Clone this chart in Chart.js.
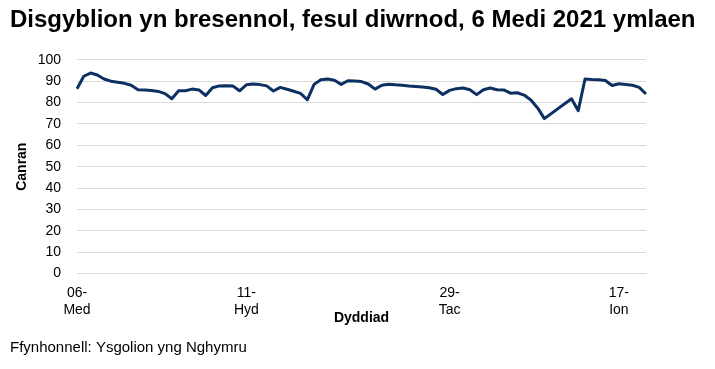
<!DOCTYPE html>
<html>
<head>
<meta charset="utf-8">
<script src="https://cdn.jsdelivr.net/npm/chart.js@4"></script>
<style>
    body { margin: 0; background: #fff; }
    #wrap { width: 715px; height: 369px; }
</style>
</head>
<body>
<div id="wrap"><canvas id="myChart" width="715" height="369"></canvas></div>
<script>
// school days, 6 Sept 2021 -> 21 Jan 2022
const dates = [
    '06-Med', '07-Med', '08-Med', '09-Med', '10-Med', '13-Med', '14-Med', '15-Med', '16-Med', '17-Med',
    '20-Med', '21-Med', '22-Med', '23-Med', '24-Med', '27-Med', '28-Med', '29-Med', '30-Med',
    '01-Hyd', '04-Hyd', '05-Hyd', '06-Hyd', '07-Hyd', '08-Hyd', '11-Hyd', '12-Hyd', '13-Hyd', '14-Hyd', '15-Hyd',
    '18-Hyd', '19-Hyd', '20-Hyd', '21-Hyd', '22-Hyd',
    '01-Tac', '02-Tac', '03-Tac', '04-Tac', '05-Tac', '08-Tac', '09-Tac', '10-Tac', '11-Tac', '12-Tac',
    '15-Tac', '16-Tac', '17-Tac', '18-Tac', '19-Tac', '22-Tac', '23-Tac', '24-Tac', '25-Tac', '26-Tac',
    '29-Tac', '30-Tac',
    '01-Rha', '02-Rha', '03-Rha', '06-Rha', '07-Rha', '08-Rha', '09-Rha', '10-Rha',
    '13-Rha', '14-Rha', '15-Rha', '16-Rha', '17-Rha',
    '03-Ion', '04-Ion', '05-Ion', '06-Ion', '07-Ion', '10-Ion', '11-Ion', '12-Ion', '13-Ion', '14-Ion',
    '17-Ion', '18-Ion', '19-Ion', '20-Ion', '21-Ion'
];

// percentage present (null = no data)
const presentPct = [
    86.5, 92.3, 93.8, 92.9, 91.0, 90.0, 89.5, 89.0, 88.1, 86.0,
    85.9, 85.6, 85.2, 84.2, 81.8, 85.5, 85.5, 86.3, 85.9,
    83.3, 86.9, 87.8, 87.9, 87.8, 85.5, 88.3, 88.7, 88.4, 87.8, 85.4,
    87.1, 86.2, 85.3, 84.3, 81.3,
    88.5, 90.7, 91.0, 90.4, 88.5, 90.2, 90.1, 89.8, 88.7, 86.3,
    88.1, 88.6, 88.3, 88.1, 87.7, 87.5, 87.3, 86.9, 86.2, 83.8,
    85.7, 86.5,
    86.8, 86.0, 83.7, 86.0, 86.8, 86.0, 85.9, 84.4,
    84.6, 83.5, 81.2, 77.5, 72.5,
    null, null, null, 81.8, 76.2, 91.0, 90.8, 90.7, 90.3, 88.0,
    88.8, 88.5, 88.1, 87.1, 84.0
];

// only these dates get a label on the x axis
const shownTicks = ['06-Med', '11-Hyd', '29-Tac', '17-Ion'];

const yTicks = [0, 10, 20, 30, 40, 50, 60, 70, 80, 90, 100];

const FONT = "'Liberation Sans', Arial, sans-serif";
Chart.defaults.font.family = FONT;
Chart.defaults.color = '#000';

const ctx = document.getElementById('myChart').getContext('2d');

new Chart(ctx, {
    type: 'line',
    data: {
        labels: dates,
        datasets: [{
            label: 'Canran',
            data: presentPct,
            borderColor: '#0c3061',
            backgroundColor: '#0c3061',
            borderWidth: 3,
            pointRadius: 0,
            tension: 0,
            spanGaps: true,
            borderJoinStyle: 'round'
        }]
    },
    options: {
        responsive: false,
        animation: false,
        layout: { padding: { left: 10, right: 0, top: 0, bottom: 0 } },
        plugins: {
            legend: { display: false },
            tooltip: { enabled: false },
            title: {
                display: true,
                text: 'Disgyblion yn bresennol, fesul diwrnod, 6 Medi 2021 ymlaen',
                align: 'start',
                color: '#000',
                font: { size: 24, weight: 'bold', family: FONT },
                padding: { top: 6, bottom: 25 }
            },
            subtitle: {
                display: true,
                position: 'bottom',
                align: 'start',
                text: 'Ffynhonnell: Ysgolion yng Nghymru',
                color: '#000',
                font: { size: 15, family: FONT },
                padding: { top: 12, bottom: 12 }
            }
        },
        scales: {
            x: {
                type: 'category',
                offset: false,
                grid: { display: false, drawTicks: false },
                border: { display: true, color: '#d9d9d9', width: 1 },
                ticks: {
                    autoSkip: false,
                    maxRotation: 0,
                    minRotation: 0,
                    padding: 11,
                    font: { size: 14 },
                    callback: function (val, i) {
                        const lab = dates[i];
                        if (shownTicks.includes(lab)) {
                            return [lab.slice(0, 3), lab.slice(3)];
                        }
                        return '';
                    }
                },
                title: {
                    display: true,
                    text: 'Dyddiad',
                    font: { size: 14, weight: 'bold' },
                    padding: { top: -19, bottom: 0 }
                },
                // keep the plot clear of the right edge like the original
                afterFit: function (scale) {
                    scale.paddingRight = 69;
                }
            },
            y: {
                min: 0,
                max: 100,
                afterBuildTicks: function (scale) {
                    scale.ticks = yTicks.map(v => ({ value: v }));
                },
                grid: { color: '#d9d9d9', lineWidth: 1, drawTicks: false },
                border: { display: false },
                ticks: { padding: 16, font: { size: 14 } },
                title: {
                    display: true,
                    text: 'Canran',
                    font: { size: 14, weight: 'bold' },
                    padding: { top: 4, bottom: 0 }
                },
                afterFit: function (scale) {
                    scale.width = 67;
                }
            }
        }
    }
});
</script>
</body>
</html>
